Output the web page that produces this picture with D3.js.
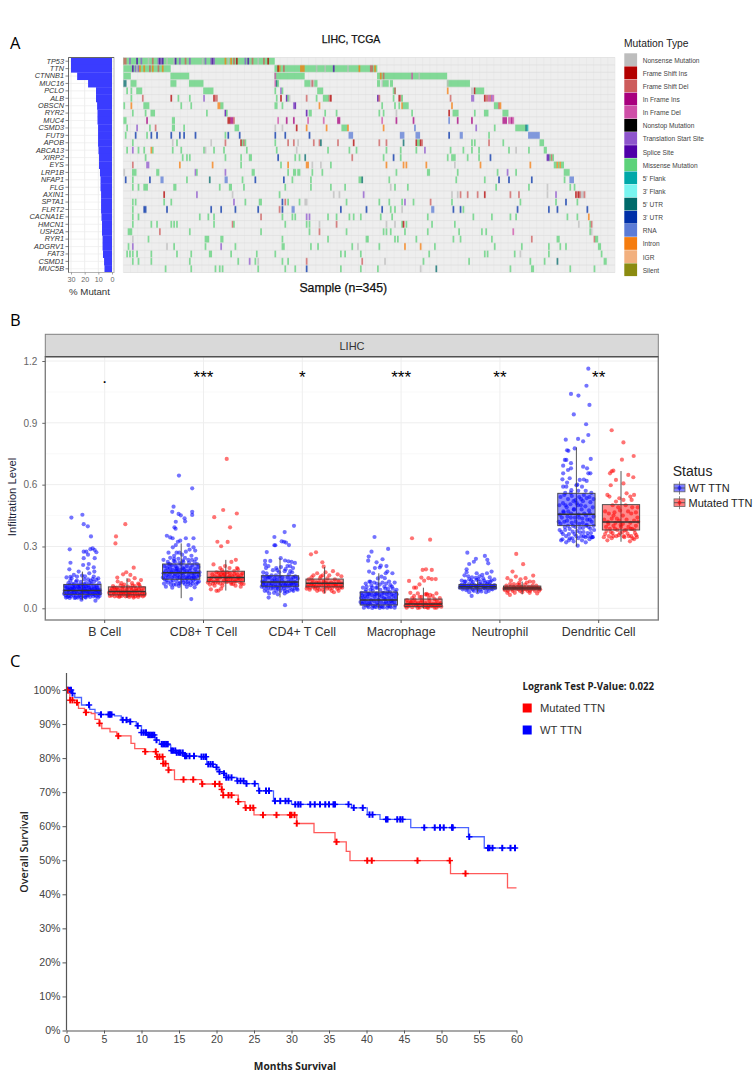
<!DOCTYPE html>
<html><head><meta charset="utf-8">
<script src="https://cdn.jsdelivr.net/npm/d3@7/dist/d3.min.js"></script>
<style>html,body{margin:0;padding:0;background:#fff}svg{display:block}text{font-family:"Liberation Sans",Arial,sans-serif}</style>
</head><body><svg id="c" width="755" height="1076"></svg>
<script>
// ---------- Panel A data ----------
const genes=["TP53","TTN","CTNNB1","MUC16","PCLO","ALB","OBSCN","RYR2","MUC4","CSMD3","FUT9","APOB","ABCA13","XIRP2","EYS","LRP1B","NFAP1","FLG","AXIN1","SPTA1","FLRT2","CACNA1E","HMCN1","USH2A","RYR1","ADGRV1","FAT3","CSMD1","MUC5B"];
const pctMutant=[30,30,25.5,17.5,11.7,11.7,10.9,10.6,10.6,10.2,10.2,10.2,9.9,9.5,9.5,8.8,8.4,8.4,8,8,8,7.7,7.3,7.3,6.9,6.9,6.6,5.8,5.5];
const mutTypes=["Nonsense Mutation","Frame Shift Ins","Frame Shift Del","In Frame Ins","In Frame Del","Nonstop Mutation","Translation Start Site","Splice Site","Missense Mutation","5' Flank","3' Flank","5' UTR","3' UTR","RNA","Intron","IGR","Silent"];
const mutColors=["#bdbdbd","#b30000","#cd5c5c","#a8007e","#cf4fa8","#000000","#8e55cc","#4f00a8","#5dd27a","#00a8a8","#7af5f0","#006a6a","#0030a8","#5b7bd6","#f57c0e","#f2b07e","#8b8b10"];
const mutCodes=["N","I","D","F","G","X","S","P","M","A","B","U","V","R","O","Q","L"];
// per gene: sample or start-end, followed by a mutation code (M when absent)
const mutations=[
"0-105 0-1D 4S 9P 12S 17N 20D 24S 25P 26S 27P 30N 35N 36P 39S 43D 46S 55N 57S 61S 62P 63S 71O 73N 75O 77D 79I 85S 87P 90D 94N 98D 101I",
"0-32 6P 8S 9N 10S 11O 14O 18D 20O 24D 27O 106-177 108I 109O 112D 124-126O 135N 141N 147P 157N 165O 173-174D 176O",
"0-4 33-45 106-126 106G 178-226 180O 182D 202G 207N",
"0-1U 5-8 33-36 46-55 106G 107U 108 127-130 131-133N 132D 134-135 178-179 181N 182-185 187-188 227-242 227N",
"2 5 9-12 56-62 106 110S 111 136-139 189-190 190D 227O 244-245N 246I 247-252",
"5 13D 33I 38 46 56S 63I 64-65D 107 110I 114P 115 116N 128D 135 140-143 144D 145I 178P 179D 189 193I 194D 195 229D 244-245S 253I 254-255D 256G 257D 258S 259G",
"0 5O 14-17 40 47 66-67O 68-69 106-107 111 119S 120P 137O 181 190 193 195O 196-199 230O 260-262 263D 264O",
"6 15 19-21 58 71P 72 128P 130-131 141 149 179 182 191N 202 228I 231-234 246 253-255 266-269",
"0-1 16F 34 35 73-74I 75-76F 77D 108G 114F 119F 129G 140G 150-151F 181G 191F 203F 228R 234F 244F 266-268F 270-271G 272F 273G",
"2 9S 18 22D 34 35 42 78-80 106N 111N 121I 128O 142O 153-156 157O 182O 204R 247S 260 275-281 282U 283A",
"1 8V 16 19V 23V 33V 39V 42V 50V 71 73V 81V 106V 113V 130V 158-160R 194-196R 205-207R 228V 236-237R 256 284-291R",
"6 34N 37 61N 71D 82I 83 84D 85 106 115D 119D 122N 133D 137D 138U 150D 161I 179D 184D 196U 205I 206-207 208I 209D 244 246 256D 266 292-294",
"2 6S 10 14 19O 20 34 40 56 57N 63 70 86 107 121N 143 158 163 184 194 205 211S 229 238 244 249 270 275N 284 295-296",
"15 41 44 46 71 82 88-89 108V 120 123 127U 160D 182 189V 194 227 230-232 241 249 257V 297-298P 299 300D 301",
"6D 16-17S 39O 62O 82 110 115O 128-129O 132N 138N 145 184O 196O 198O 212O 232N 250O 285O 302-303 304O 305 306O 307-308",
"0N 6-8 23-24 50S 51 71S 90-91 115 119 120 122-123 132 139 191 213-214 234 262 269S 275 309-312",
"1V 6 18V 26-27R 44 60U 71-72R 83 92V 112V 118 131 165-166 167U 186 233 253 263V 270V 286V 309 313-315R",
"6 10 14-16 35-36 67 74 75 84 113 131 145 155 187N 190 199 261 284 297N 313 316",
"28I 51S 76N 109 147N 151N 168S 230N 234N 236D 241D 248D 253I 271D 277D 297N 303S 317I 318D 319I 320D 321-322N 323D",
"6 8 28 33 77S 85 95-96 111V 113D 115 123 127N 128N 156 179 186 195 197S 203 215D 230 278 303 310V 318",
"6 14V 15V 30V 61V 68V 78V 94V 109D 111V 118-119R 152V 170V 181V 187 190 195N 216-217R 231V 236V 238 276V 298V 304V 325V",
"6 10 53 59 63 96D 111 118 120 128S 130S 143 149 158 161 166 180 188 213 245 258 271 275 311 318 326O",
"6 19 23 33 35 37 63 76D 77 113 128 130 137N 149D 184N 190N 195 196I 198 216 232 319N 327 328D",
"3-4 5 25D 46 96 130 137D 156 182 184 187 197 213 235 251 254 273G 327 328N",
"6N 17 57-59 68-69 111 143 170 171 190 192 205 231 236 258 286D 304-305 330D 331-332",
"3 6S 30N 35 57 68S 78 111-112 131 136 160 164N 179 197O 208O 218 260 279 298 306 310 333-334",
"2 4 6 9 19 37 47 60-61 75 93 106 152 155 166 214 253 255 274 278N 298 335",
"6 10 19 46 80 88S 92 94N 111 115 128D 167D 183N 210 242 285 295 304U 337-338",
"29 47 64 67 69 94 113 120 128V 152 166 178 208N 219U 271 286-287 313 330"];

// ---------- Panel B data ----------
const cellTypes=["B Cell","CD8+ T Cell","CD4+ T Cell","Macrophage","Neutrophil","Dendritic Cell"];
const statusNames=["WT TTN","Mutated TTN"];
const statusColors=["#0000ff","#ff0000"];
const significance=[".","***","*","***","**","**"];
// lower whisker, q1, median, q3, upper whisker
const boxWT=[[.04,.068,.086,.116,.178],[.049,.141,.173,.215,.315],[.053,.107,.128,.158,.243],[0,.016,.04,.079,.17],[.076,.095,.105,.116,.137],[.30,.401,.456,.558,.781]];
const boxMut=[[.05,.065,.081,.104,.146],[.086,.129,.15,.18,.235],[.073,.104,.121,.142,.2],[0,.008,.021,.045,.10],[.068,.09,.099,.108,.13],[.323,.38,.419,.503,.666]];
// flat lists: jitter (percent of half box), infiltration (x1000)
const ptsBCellWT=[-59,440,0,454,7,408,29,398,46,349,-68,286,55,291,43,287,66,283,75,272,7,275,21,275,30,260,66,243,-64,221,7,243,34,215,61,199,64,178,-70,189,4,210,-64,153,-20,178,29,194,-46,162,-29,154,-2,159,37,170,61,154,-85,150,70,37,-5,42,-90,62,-75,75,-62,58,-50,88,-38,66,-25,52,-12,78,2,60,15,95,28,70,41,55,55,82,68,64,82,92,95,72,-85,100,-70,112,-55,120,-40,105,-22,115,-8,128,6,108,20,122,35,100,48,118,62,128,76,110,90,122,-95,85,-78,95,-60,70,-45,78,-30,92,-15,65,0,88,12,75,25,85,38,90,52,68,65,95,78,75,92,60,-65,135,-30,135,10,140,45,135,75,138,-80,55,-42,50,18,52,58,58,84,52,-18,98,22,105,-72,60,-33,80,33,62,72,88,-52,102,-5,72,88,80,-98,70,-88,52,-82,72,-72,88,-68,50,-58,95,-55,75,-48,62,-44,98,-36,52,-28,72,-24,105,-18,58,-10,95,-6,52,4,78,8,98,14,55,18,85,24,62,30,110,34,78,40,72,46,98,52,90,58,70,62,105,70,78,74,58,80,100,86,68,94,88,-92,108,-66,95,-46,115,-14,108,10,118,40,125,-2,115,-35,128,30,140,-75,122,55,142,-58,145,14,155,85,145];
const ptsBCellMut=[-9,408,-59,349,-62,315,36,197,-4,175,-21,165,-52,149,18,162,41,146,75,137,-50,130,9,136,27,122,-30,122,60,120,-75,108,-55,100,-35,110,-15,115,5,105,22,100,42,108,70,105,88,98,-88,85,-70,70,-52,60,-35,82,-18,68,0,92,15,75,32,60,50,85,68,68,85,58,-92,60,-62,88,-42,55,-25,95,-8,58,8,65,25,88,42,68,60,55,78,85,95,70,-80,95,-45,72,-28,60,12,55,55,72,35,52,-96,75,-82,62,-74,78,-66,58,-58,78,-48,90,-38,60,-32,72,-22,78,-12,82,-4,72,2,60,10,78,18,62,28,72,36,82,44,58,48,95,58,62,64,92,72,62,82,72,92,62,-68,100,-20,105,30,110,65,115];
const ptsCD8WT=[-12,644,59,582,-41,493,-48,468,-14,458,-2,451,59,468,59,453,18,437,21,422,-29,420,-36,393,-30,386,-77,352,-59,344,-46,340,-18,323,-5,328,25,340,66,340,39,307,66,296,75,280,-45,296,-29,307,-68,270,-25,270,25,275,-59,245,-10,270,45,285,-38,255,5,260,55,255,80,240,72,225,-72,225,-40,230,-15,240,20,245,54,45,-90,205,-75,195,-60,215,-45,185,-30,205,-15,175,0,215,15,190,30,205,45,180,60,210,75,190,92,200,-95,170,-80,160,-65,178,-50,150,-35,168,-20,145,-5,185,10,160,25,150,40,162,55,145,70,170,85,155,98,175,-88,140,-72,125,-55,130,-40,115,-25,132,-10,120,5,135,20,118,35,128,50,112,65,135,80,118,95,130,-82,105,-48,100,-12,108,30,104,72,102,-60,195,-22,195,30,180,65,155,-33,225,8,232,42,222,-98,150,-92,120,-84,180,-78,135,-70,150,-62,165,-56,115,-52,175,-44,135,-36,155,-28,115,-26,180,-18,160,-8,150,-6,125,2,170,6,145,12,125,18,175,24,135,32,145,38,120,44,150,52,130,58,170,62,120,68,150,76,140,82,175,88,125,96,160,-68,215,-50,210,-38,240,-10,220,12,225,38,235,58,235,85,215,-95,235,-25,190,10,195,50,195];
const ptsCD8Mut=[5,725,-14,477,-62,442,59,460,23,393,-45,323,10,322,-25,301,54,235,-66,213,-4,205,30,225,-30,195,20,195,60,195,-80,92,-39,86,-50,85,-25,95,80,105,-85,115,-65,130,-48,145,-30,120,-12,160,5,128,22,170,40,118,58,145,76,125,92,140,-72,165,-50,175,-30,150,-10,135,8,175,25,140,45,180,62,165,82,160,-90,135,-60,110,-38,172,-18,110,15,150,35,155,52,110,70,148,95,118,-42,125,-2,150,30,118,-78,148,65,190,-20,185,-96,125,-82,135,-70,120,-58,155,-44,135,-35,155,-26,165,-14,125,-6,165,2,140,12,130,20,155,28,125,38,140,46,165,56,130,66,150,74,140,84,120,90,170,-55,125,-15,175,48,130];
const ptsCD4WT=[75,400,25,370,-30,346,9,325,21,323,32,319,48,307,-30,306,-25,306,-71,273,4,243,-80,230,-52,230,-80,212,27,232,45,228,62,225,80,220,-62,205,-20,195,55,205,70,195,27,15,-61,52,-90,155,-72,170,-55,150,-38,185,-22,160,-5,175,12,150,30,190,48,165,65,175,82,155,95,145,-95,130,-78,140,-60,120,-42,135,-25,115,-8,125,10,135,28,110,45,130,62,118,80,128,92,110,-85,100,-68,85,-50,95,-32,75,-15,100,2,85,20,95,38,80,55,100,72,85,90,95,-92,115,-72,105,-35,105,0,110,35,100,60,140,-58,72,-12,68,25,72,-45,160,5,200,40,205,-15,140,75,110,-30,145,-98,105,-88,125,-82,85,-76,115,-64,100,-62,150,-48,110,-44,120,-36,95,-28,130,-20,85,-18,105,-10,95,-2,155,4,120,8,100,16,110,22,125,26,85,32,120,40,110,42,150,50,85,52,110,58,120,66,90,70,125,78,100,86,120,94,90,-70,155,-15,185,25,180,72,150,-90,175,-75,195,55,180];
const ptsCD4Mut=[-46,272,-73,262,-12,223,-5,202,-60,160,-40,170,-20,155,5,175,25,160,45,180,70,165,90,155,-85,140,-65,135,-45,125,-25,145,-5,130,15,145,35,125,55,140,75,130,92,120,-92,105,-72,115,-52,95,-32,110,-12,90,8,110,28,95,48,110,68,95,88,105,-80,90,-40,85,-2,80,38,85,75,85,-60,105,18,120,60,115,-30,125,50,78,-96,95,-86,115,-76,100,-68,120,-56,115,-48,105,-36,100,-28,90,-16,110,-8,120,0,100,6,125,12,95,22,105,30,115,42,100,52,120,62,105,72,115,82,100,94,100,-70,150,-10,160];
const ptsMacroWT=[-23,346,50,288,-39,275,-54,251,-57,231,20,238,-12,223,11,207,5,198,41,205,-21,195,73,170,46,178,37,170,-52,178,-30,170,14,154,32,146,-70,120,-50,130,-25,125,-5,145,20,125,55,130,85,125,-85,100,-65,105,-40,110,-15,100,5,115,30,105,50,95,70,105,95,90,-92,75,-72,80,-52,70,-32,85,-12,72,8,90,28,75,48,80,68,68,88,80,-95,50,-78,45,-60,55,-42,40,-22,55,-2,42,15,58,35,45,55,52,72,40,92,50,-88,22,-70,15,-50,25,-30,12,-10,25,10,10,30,22,50,12,70,25,88,14,-80,3,-55,5,-35,2,-15,6,5,2,25,4,45,3,65,5,85,3,-10,120,40,120,-45,90,62,112,-98,30,-90,62,-82,30,-75,60,-65,30,-58,70,-45,20,-38,65,-26,35,-18,68,-5,15,2,65,12,30,20,75,28,48,38,30,44,68,52,28,60,80,66,35,78,60,84,30,96,68,-60,12,-22,8,18,8,60,10,-68,90,-35,100,-8,100,35,95,75,95,-45,128];
const ptsMacroMut=[-61,340,36,333,-4,186,14,189,45,186,-77,133,-11,149,27,146,45,142,66,142,4,134,-21,116,-50,100,-39,100,18,70,36,65,-70,75,-50,60,-30,72,-10,55,10,68,30,50,50,60,70,72,88,50,-88,40,-68,30,-48,42,-28,25,-8,38,12,25,32,35,52,22,72,35,92,25,-80,10,-60,5,-40,12,-20,4,0,12,20,5,40,10,60,3,80,10,-90,3,-30,2,25,2,70,3,-96,12,-84,25,-74,18,-64,30,-54,18,-44,28,-34,18,-24,12,-14,28,-4,18,6,5,16,18,26,12,36,20,46,14,56,12,66,20,76,16,86,20,96,8,-60,50,-20,55,20,65,60,45];
const ptsNeutWT=[-55,270,39,254,-9,240,52,235,-20,226,57,218,-45,215,-59,189,-59,175,75,178,-5,170,25,162,50,170,-32,60,-70,160,-50,155,-30,150,-10,148,10,155,30,145,65,150,90,140,-85,135,-65,130,-45,140,-25,128,-5,138,15,128,35,135,55,128,75,135,-90,110,-70,115,-50,105,-30,118,-10,108,10,118,30,105,50,118,70,105,90,112,-80,92,-60,88,-40,95,-20,85,0,92,20,82,40,95,60,85,80,92,-45,78,0,78,45,78,-95,100,-84,115,-76,100,-64,110,-56,95,-46,118,-36,105,-26,90,-16,112,-6,98,4,110,14,90,24,115,34,98,44,108,54,95,64,115,74,95,84,108,94,98,-70,130,-35,135,5,140,40,125,68,128];
const ptsNeutMut=[-32,264,5,214,-52,178,-79,146,59,159,18,146,-9,141,-34,154,41,130,-66,65,-60,135,-15,125,60,128,75,110,-85,110,-65,118,-45,105,-25,115,-5,105,15,115,35,105,55,110,88,100,-92,88,-72,95,-52,85,-32,92,-12,85,8,92,28,85,48,92,68,85,90,85,-80,75,-40,75,0,78,40,75,80,72,-96,95,-84,100,-76,85,-62,105,-54,92,-42,98,-28,100,-18,92,-8,98,2,90,12,100,22,92,32,98,42,85,52,100,62,95,72,98,84,95,96,92,-45,118,-15,112,25,125];
const ptsDCWT=[64,1163,54,1080,-29,1040,11,1032,70,987,-14,941,52,893,64,841,-57,818,9,822,36,810,-50,767,-43,764,-9,776,77,725,-62,720,-54,720,-29,704,-71,692,-29,679,-45,671,-71,655,36,687,57,679,64,655,75,655,-75,626,-36,631,18,623,55,618,0,597,-71,590,-54,590,-27,573,5,600,30,590,50,570,80,560,-85,540,-65,550,-45,530,-25,545,-5,525,15,540,35,520,55,535,75,515,92,530,-92,500,-72,510,-52,490,-32,505,-12,480,8,500,28,480,48,495,68,475,88,490,-88,455,-68,465,-48,445,-28,460,-8,440,12,455,32,435,52,450,72,430,92,445,-85,410,-65,420,-45,400,-25,415,-5,395,15,410,35,390,55,405,75,385,92,400,-80,370,-60,380,-40,360,-20,372,0,350,20,368,40,350,60,365,80,345,-75,335,-55,320,-35,340,-15,325,7,304,30,330,50,320,70,335,85,345,-95,420,-90,380,-82,330,-78,440,-72,360,-70,470,-62,395,-58,500,-55,350,-50,425,-44,470,-40,330,-36,385,-30,440,-22,340,-18,400,-14,480,-10,360,-4,420,2,510,4,375,10,340,14,440,18,390,24,500,26,350,34,415,38,370,42,460,48,345,52,400,58,430,62,350,66,395,72,460,78,365,82,420,88,345,95,380,-60,560,-30,560,10,570,40,550,70,540,-15,520,25,530,-50,610,40,625];
const ptsDCMut=[-50,864,13,805,68,739,5,721,-50,665,-41,668,-59,655,39,647,66,636,-27,623,13,606,-55,597,-73,550,30,558,70,550,50,542,-62,542,-9,534,-27,518,13,526,57,526,-45,500,-15,490,25,500,60,490,-85,470,-65,460,-35,465,-5,475,38,470,80,465,90,490,-90,430,-70,420,-50,435,-30,415,-10,425,10,410,30,430,50,415,70,425,88,440,-80,395,-60,385,-40,400,-20,380,0,395,20,378,40,395,60,385,80,400,-85,360,-65,350,-45,365,-25,350,-5,365,15,350,35,362,55,350,75,365,-73,330,-50,340,48,325,70,335,85,345,-92,345,-78,375,-68,410,-55,370,-42,350,-32,385,-22,435,-12,355,-2,405,8,370,18,345,28,380,42,350,52,385,62,340,72,380,82,355,92,420,-40,450,10,450,55,460];

// ---------- Panel C data ----------
const wtMonths=[0,.67,1.1,2,3.1,3.8,4.4,6.4,7.3,8.4,9.3,10,10.9,11.8,12.4,13.6,13.9,14.7,15.6,17.8,18.7,19.6,20.2,20.9,21.3,22.7,23.8,25.6,27.6,30,38,40.1,41.8,45.9,53.6,55.7];
const wtSurvival=[100,99,97.8,95.6,94.3,93.3,92.8,92.4,91.2,90.7,89.5,87.5,86.8,85.3,84.1,83.8,82.2,81.6,80.6,80.4,78.2,77.3,76,75.5,74.3,73.3,72.5,70.4,67.4,66.4,65.4,63.4,62,59.6,56.9,53.6];
const wtCensor=[.2,.4,.6,.8,3,4.6,5.6,5.8,6,7.5,8,8.5,9.5,10,10.3,10.6,10.9,11.1,11.3,11.5,11.7,12,12.7,12.9,13.1,13.3,13.5,14,14.2,14.5,14.7,15,15.2,15.5,15.8,16,16.4,17,18,18.3,18.6,18.9,19.2,19.5,20,20.4,21,21.3,21.6,22,22.8,23.2,23.6,24,25.1,25.7,26.6,27,27.8,28.5,29.2,29.6,30.5,30.9,31.2,32.5,33.1,33.8,34.5,35,35.6,35.8,37.6,38.3,39.5,40.4,40.8,42.6,42.8,44.1,44.5,44.8,47.7,49.1,49.8,50.3,51.4,51.5,53.7,56.2,56.4,56.8,58.1,59.2,59.8];
const mutMonths=[0,.2,.45,1.1,1.6,2.4,3.3,3.8,4.4,4.7,5.8,6.7,8.6,9.1,10.4,12,12.9,13.6,14.4,18,20.7,20.9,22.9,23.8,25,30.7,33,35.8,37.3,37.8,51.2,58.8];
const mutSurvival=[100,99,97,96.3,94.6,93.4,93.1,91.4,90.2,88.7,87.7,86.5,84.3,82.8,81.9,80.4,78.4,76.5,73.7,72.4,70.8,69.1,67.2,65.4,63.3,60.8,58.1,55.4,52.6,49.9,46.1,41.9];
const mutCensor=[.1,.5,.8,1.4,2.6,4.4,6.9,10.5,11.9,12.1,12.4,12.8,12.9,13.2,13.6,15.6,16.9,18.1,19.8,20.4,20.7,20.9,21.6,22,22.9,23.9,24.5,24.9,26.2,28,29.8,30,30.4,30.7,36,40.1,40.7,46.8,51.1,53.2];
const monthTicks=d3.range(0,61,5), survivalTicks=d3.range(0,101,10);

const svg=d3.select("#c");
const T=(x,y,s,o={})=>{const t=svg.append("text").attr("x",x).attr("y",y).text(s)
  .attr("font-size",o.size||10).attr("fill",o.fill||"#222").attr("text-anchor",o.anchor||"start");
  if(o.weight)t.attr("font-weight",o.weight); if(o.family)t.style("font-family",o.family);
  if(o.heavy)t.attr("stroke",o.fill||"#222").attr("stroke-width",o.heavy);
  if(o.rotate!=null)t.attr("transform",`rotate(${o.rotate} ${x} ${y})`); return t;};

// Panel letters
[["A",10,49],["B",10,326],["C",10,667]].forEach(d=>T(d[1],d[2],d[0],{size:16.5,fill:"#000",family:"'Open Sans'"}));

// ---------- Panel A ----------
T(351,43,"LIHC, TCGA",{size:10.5,anchor:"middle",fill:"#111",heavy:.25});
const rowY=d3.scaleBand().domain(genes).range([57.5,272.5]);
const sampX=d3.scaleLinear().domain([0,345]).range([123.4,615]);
const pctX=d3.scaleLinear().domain([0,30]).range([112,71]);
const onco=svg.append("g");
onco.selectAll("rect.row").data(genes).join("rect").attr("class","row")
 .attr("x",sampX(0)).attr("width",sampX(345)-sampX(0)).attr("y",d=>rowY(d)).attr("height",rowY.bandwidth()).attr("fill","#eeeeee");
onco.selectAll("line.vg").data(d3.range(0,346,5)).join("line").attr("class","vg")
 .attr("x1",d=>sampX(d)).attr("x2",d=>sampX(d)).attr("y1",57.5).attr("y2",272.5).attr("stroke","#e6e6e6").attr("stroke-width",.6);
const marks=[];
mutations.forEach((s,i)=>s.split(" ").forEach(tok=>{
  const m=tok.match(/^(\d+)(?:-(\d+))?([A-Z]?)$/);
  marks.push({gene:genes[i],a:+m[1],b:+(m[2]||m[1]),c:m[3]||"M"});
}));
const typeColor=d3.scaleOrdinal().domain(mutCodes).range(mutColors);
onco.selectAll("rect.m").data(marks).join("rect").attr("class","m")
 .attr("x",d=>sampX(d.a)).attr("width",d=>sampX(d.b+1)-sampX(d.a)+.3)
 .attr("y",d=>rowY(d.gene)).attr("height",rowY.bandwidth())
 .attr("fill",d=>typeColor(d.c)).attr("fill-opacity",.75);
onco.selectAll("line.hg").data(d3.range(0,30)).join("line").attr("class","hg")
 .attr("x1",sampX(0)).attr("x2",sampX(345)).attr("y1",d=>57.5+d*rowY.step()).attr("y2",d=>57.5+d*rowY.step()).attr("stroke","#dcdcdc").attr("stroke-width",.7);
// bars
const barG=svg.append("g");
barG.append("rect").attr("x",68.5).attr("y",57.5).attr("width",45.5).attr("height",215).attr("fill","#fff");
[0,10,20,30].forEach(v=>barG.append("line").attr("x1",pctX(v)).attr("x2",pctX(v)).attr("y1",57.5).attr("y2",272.5).attr("stroke","#e8e8e8").attr("stroke-width",.7));
genes.forEach(g=>barG.append("line").attr("x1",68.5).attr("x2",114).attr("y1",rowY(g)+rowY.bandwidth()/2).attr("y2",rowY(g)+rowY.bandwidth()/2).attr("stroke","#ececec").attr("stroke-width",.7));
barG.selectAll("rect.b").data(genes).join("rect").attr("class","b")
 .attr("x",(d,i)=>pctX(pctMutant[i])).attr("width",(d,i)=>pctX(0)-pctX(pctMutant[i])).attr("y",d=>rowY(d)).attr("height",rowY.bandwidth()+.3).attr("fill","#3a3cff");
barG.append("rect").attr("x",68.5).attr("y",57.5).attr("width",45.5).attr("height",215).attr("fill","none").attr("stroke","#b5b5b5").attr("stroke-width",1);
barG.append("line").attr("x1",68.5).attr("x2",114).attr("y1",57.5).attr("y2",57.5).attr("stroke","#666").attr("stroke-width",1);
barG.append("line").attr("x1",68.5).attr("x2",68.5).attr("y1",57.5).attr("y2",272.5).attr("stroke","#555").attr("stroke-width",.8);
const geneAxis=svg.append("g").attr("transform","translate(68.5,0)").call(d3.axisLeft(rowY).tickSize(3).tickPadding(1.5));
geneAxis.select(".domain").remove();
geneAxis.selectAll("text").attr("font-size",7.3).attr("font-style","italic").attr("fill","#333").style("font-family","'Liberation Sans'");
geneAxis.selectAll("line").attr("stroke","#555").attr("stroke-width",.7);
const pctAxis=svg.append("g").attr("transform","translate(0,272.5)").call(d3.axisBottom(pctX).tickValues([30,20,10,0]).tickSize(2).tickPadding(2));
pctAxis.select(".domain").remove();
pctAxis.selectAll("text").attr("font-size",7.2).attr("fill","#666").style("font-family","'Liberation Sans'");
pctAxis.selectAll("line").attr("stroke","#666").attr("stroke-width",.6);
T(89.5,294.5,"% Mutant",{size:9.7,anchor:"middle",fill:"#333"});
T(343.3,292,"Sample (n=345)",{size:12.3,anchor:"middle",fill:"#111",heavy:.25});
T(624,46.7,"Mutation Type",{size:10.3,fill:"#222"});
const lgY=d3.scaleBand().domain(mutTypes).range([53.3,276.5]);
svg.selectAll("rect.lg").data(mutTypes).join("rect").attr("class","lg").attr("x",624.3).attr("width",12.8)
 .attr("y",d=>lgY(d)).attr("height",lgY.bandwidth()-.4).attr("fill",(d,i)=>mutColors[i]);
svg.selectAll("text.lg").data(mutTypes).join("text").attr("class","lg").attr("x",642.7).attr("y",d=>lgY(d)+lgY.bandwidth()/2+2.8)
 .attr("font-size",6.6).attr("fill","#444").text(d=>d);

// ---------- Panel B ----------
const bx=d3.scaleBand().domain(cellTypes).range([55.3,648.1]);
const by=d3.scaleLinear().domain([0,1.2]).range([608.3,361]);
const dodge=22.3, boxW=37.3;
const bPanel=svg.append("g");
bPanel.append("rect").attr("x",45.3).attr("y",356.7).attr("width",613).attr("height",263.3).attr("fill","#fff");
d3.range(0,1.21,.15).forEach((v,i)=>bPanel.append("line").attr("x1",45.3).attr("x2",658.3).attr("y1",by(v)).attr("y2",by(v)).attr("stroke",i%2?"#f7f7f7":"#eeeeee").attr("stroke-width",i%2?.7:1));
cellTypes.forEach(c=>bPanel.append("line").attr("x1",bx(c)+bx.bandwidth()/2).attr("x2",bx(c)+bx.bandwidth()/2).attr("y1",356.7).attr("y2",620).attr("stroke","#eeeeee"));
const ptSets=[[ptsBCellWT,ptsBCellMut],[ptsCD8WT,ptsCD8Mut],[ptsCD4WT,ptsCD4Mut],[ptsMacroWT,ptsMacroMut],[ptsNeutWT,ptsNeutMut],[ptsDCWT,ptsDCMut]];
cellTypes.forEach((c,ci)=>{
  const cx=bx(c)+bx.bandwidth()/2;
  [0,1].forEach(s=>{
    const center=cx+(s?dodge:-dodge), col=statusColors[s], flat=ptSets[ci][s], pts=[];
    for(let i=0;i<flat.length;i+=2)pts.push([flat[i],flat[i+1]]);
    const g=bPanel.append("g");
    const b=(s?boxMut:boxWT)[ci];
    g.selectAll("circle").data(pts).join("circle").attr("cx",d=>center+d[0]/100*boxW/2).attr("cy",d=>by(d[1]/1000))
      .attr("r",2.1).attr("fill",col).attr("fill-opacity",.55);
    g.append("line").attr("x1",center).attr("x2",center).attr("y1",by(b[0])).attr("y2",by(b[4])).attr("stroke","#444").attr("stroke-width",.9);
    g.append("rect").attr("x",center-boxW/2).attr("width",boxW).attr("y",by(b[3])).attr("height",by(b[1])-by(b[3])).attr("fill",col).attr("fill-opacity",.45).attr("stroke","#444").attr("stroke-width",.9);
    g.append("line").attr("x1",center-boxW/2).attr("x2",center+boxW/2).attr("y1",by(b[2])).attr("y2",by(b[2])).attr("stroke","#333").attr("stroke-width",1.5);
  });
  T(cx,382.5,significance[ci],{size:17,anchor:"middle",fill:"#000"});
});
bPanel.append("rect").attr("x",45.3).attr("y",356.7).attr("width",613).attr("height",263.3).attr("fill","none").attr("stroke","#808080").attr("stroke-width",1.4);
svg.append("rect").attr("x",45.3).attr("y",334.3).attr("width",613).attr("height",22.4).attr("fill","#d9d9d9").attr("stroke","#808080").attr("stroke-width",1);
svg.append("line").attr("x1",45.3).attr("x2",658.3).attr("y1",356.7).attr("y2",356.7).attr("stroke","#444").attr("stroke-width",1);
T(352,349.5,"LIHC",{size:11,anchor:"middle",fill:"#333"});
const byAxis=svg.append("g").attr("transform","translate(45.3,0)").call(d3.axisLeft(by).tickValues([0,.3,.6,.9,1.2]).tickFormat(d3.format(".1f")).tickSize(3).tickPadding(5));
byAxis.select(".domain").remove();
byAxis.selectAll("text").attr("font-size",10).attr("fill","#666").style("font-family","'Liberation Sans'");
byAxis.selectAll("line").attr("stroke","#666");
const bxAxis=svg.append("g").attr("transform","translate(0,620)").call(d3.axisBottom(bx).tickSize(3).tickPadding(4));
bxAxis.select(".domain").remove();
bxAxis.selectAll("text").attr("font-size",12.4).attr("fill","#333").style("font-family","'Liberation Sans'");
bxAxis.selectAll("line").attr("stroke","#555");
T(15.5,497,"Infiltration Level",{size:11.2,anchor:"middle",rotate:-90,fill:"#1a2438"});
T(672.7,476,"Status",{size:14,fill:"#222"});
statusNames.forEach((n,i)=>{
  const cy=488+i*14.7, col=statusColors[i];
  svg.append("line").attr("x1",679.5).attr("x2",679.5).attr("y1",cy-6.5).attr("y2",cy+6.5).attr("stroke","#666").attr("stroke-width",.8);
  svg.append("rect").attr("x",674).attr("y",cy-3.8).attr("width",11).attr("height",7.6).attr("fill",col).attr("fill-opacity",.5).attr("stroke","#666").attr("stroke-width",.8);
  svg.append("line").attr("x1",674).attr("x2",685).attr("y1",cy).attr("y2",cy).attr("stroke","#555").attr("stroke-width",.9);
  svg.append("circle").attr("cx",679.5).attr("cy",cy).attr("r",2).attr("fill",col).attr("fill-opacity",.6);
  T(688.5,cy+4,n,{size:11,fill:"#222"});
});

// ---------- Panel C ----------
const kx=d3.scaleLinear().domain([0,60]).range([66.5,516.5]);
const ky=d3.scaleLinear().domain([0,100]).range([1030.5,690]);
const stepLine=d3.line().x(d=>kx(d[0])).y(d=>ky(d[1])).curve(d3.curveStepAfter);
const curve=(months,surv,endM,col,line,censor)=>{
  const pts=months.map((m,i)=>[m,surv[i]]); pts.push([endM,surv[surv.length-1]]);
  const g=svg.append("g");
  g.append("path").attr("d",stepLine(pts)).attr("fill","none").attr("stroke",line).attr("stroke-width",1.3);
  const at=m=>surv[Math.max(0,d3.bisectRight(months,m)-1)];
  const tick=g.selectAll("g").data(censor).join("g").attr("transform",m=>`translate(${kx(m)},${ky(at(m))})`);
  tick.append("line").attr("x1",-3.2).attr("x2",3.2).attr("stroke",col).attr("stroke-width",1.4);
  tick.append("line").attr("y1",-3.2).attr("y2",3.2).attr("stroke",col).attr("stroke-width",2);
};
curve(wtMonths,wtSurvival,60,"#0000ff","#4a63ff",wtCensor);
curve(mutMonths,mutSurvival,60,"#ff0000","#ff5a5a",mutCensor);
const kyAxis=svg.append("g").attr("transform","translate(66.5,0)").call(d3.axisLeft(ky).tickValues(survivalTicks).tickFormat(d=>d+"%").tickSize(4).tickPadding(2).tickSizeOuter(0));
kyAxis.select(".domain").attr("d","M0,1030.5V673").attr("stroke","#555").attr("stroke-width",1.2);
kyAxis.selectAll("text").attr("font-size",10.6).attr("fill","#444").style("font-family","'Liberation Sans'");
kyAxis.selectAll("line").attr("stroke","#555");
const kxAxis=svg.append("g").attr("transform","translate(0,1030.5)").call(d3.axisBottom(kx).tickValues(monthTicks).tickSize(3).tickPadding(2).tickSizeOuter(0));
kxAxis.select(".domain").attr("stroke","#555").attr("stroke-width",1.2);
kxAxis.selectAll("text").attr("font-size",10.6).attr("fill","#444").style("font-family","'Liberation Sans'");
kxAxis.selectAll("line").attr("stroke","#555");
T(28,852,"Overall Survival",{size:10.8,anchor:"middle",rotate:-90,fill:"#222",family:"'Open Sans'",weight:600});
T(295,1070,"Months Survival",{size:10.2,anchor:"middle",fill:"#222",family:"'Open Sans'",weight:700});
T(522.5,690,"Logrank Test P-Value: 0.022",{size:9.7,fill:"#222",family:"'Open Sans'",weight:700});
[["Mutated TTN","#ff0000",708],["WT TTN","#0000ff",730]].forEach(d=>{
  svg.append("rect").attr("x",522.7).attr("y",d[2]-4.5).attr("width",9).attr("height",9).attr("fill",d[1]);
  T(540,d[2]+4,d[0],{size:11.2,fill:"#333"});
});
</script></body></html>
